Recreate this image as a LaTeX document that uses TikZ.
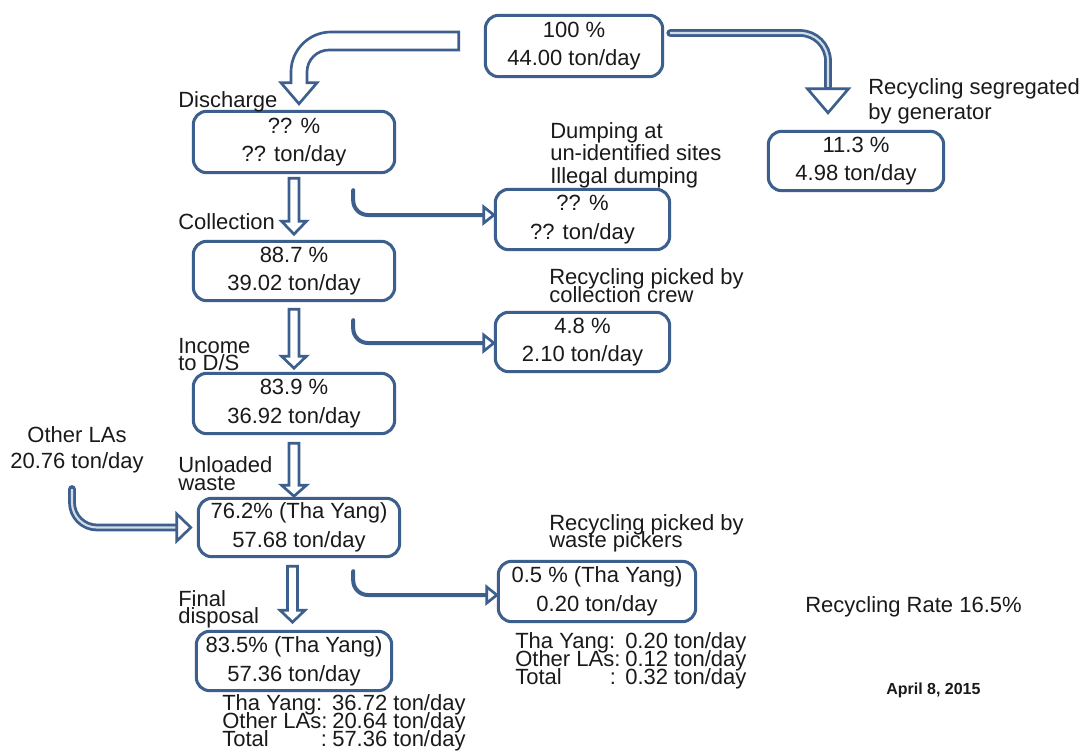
\documentclass[tikz,border=0pt]{standalone}
\usepackage{fontspec}
\setmainfont{Liberation Sans}
\usetikzlibrary{calc}
\definecolor{flowblue}{HTML}{3C5F8D}
\definecolor{ink}{HTML}{1A1A1A}
% lines stacked at a fixed baseline distance; the box baseline is the first line
\newcommand\stackl[2]{\vtop{\baselineskip=#1\lineskiplimit=-50pt\lineskip=0pt\halign{##\hfil\cr#2\crcr}}}
\newcommand\stackc[2]{\vtop{\baselineskip=#1\lineskiplimit=-50pt\lineskip=0pt\halign{\hfil##\hfil\cr#2\crcr}}}
\newcommand\keycol[1]{\makebox[82.5pt][l]{#1}}
% hollow down arrow: start coordinate, shaft length, head length
\newcommand\colarrow[3]{\draw[hollow] ($(#1)+(-5,0)$) -- ++(0,-#2) -- ++(-7.5,0) -- ++(12.5,-#3) -- ++(12.5,#3) -- ++(-7.5,0) -- ++(0,#2) -- cycle;}
\begin{document}
\begin{tikzpicture}[x=0.75pt,y=0.75pt,font=\fontsize{16.5}{19}\selectfont,text=ink,
  box/.style={draw=flowblue,line width=2.3pt,rounded corners=10pt,fill=white,align=center,inner sep=0pt,font=\fontsize{16.5}{21.5}\selectfont},
  lbl/.style={anchor=base west,inner sep=0pt},
  hollow/.style={draw=flowblue,line width=2pt,fill=white,line join=miter},
  elbow/.style={draw=flowblue,line width=3pt,rounded corners=11pt,line cap=round},
  pipe/.style={draw=flowblue!22,line width=1.6pt,preaction={draw=flowblue,line width=5.8pt,line cap=round}}]

\fill[white] (0,0) rectangle (1081,-753);
\useasboundingbox (0,0) rectangle (1081,-753);

% quantity boxes
\node[box,minimum width=133pt,minimum height=46pt] (src) at (574,-46) {100 \%\\44.00 ton/day};
\node[box,minimum width=151pt,minimum height=46pt] (dis) at (294,-142) {?? \%\\?? ton/day};
\node[box,minimum width=131.5pt,minimum height=44.5pt] (gen) at (856,-161) {11.3 \%\\4.98 ton/day};
\node[box,minimum width=130.75pt,minimum height=45.25pt] (dump) at (582.5,-219.5) {?? \%\\?? ton/day};
\node[box,minimum width=151pt,minimum height=44.5pt] (col) at (294,-271) {88.7 \%\\39.02 ton/day};
\node[box,minimum width=130.75pt,minimum height=44.5pt] (crew) at (582.5,-342) {4.8 \%\\2.10 ton/day};
\node[box,minimum width=151pt,minimum height=45.25pt] (inc) at (294,-403.5) {83.9 \%\\36.92 ton/day};
\node[box,minimum width=151pt,minimum height=43.75pt] (unl) at (299,-527.5) {76.2\% (Tha Yang)\\57.68 ton/day};
\node[box,minimum width=148pt,minimum height=45.25pt] (pick) at (597,-591.5) {0.5 \% (Tha Yang)\\0.20 ton/day};
\node[box,minimum width=146.5pt,minimum height=44.5pt] (fin) at (294,-661) {83.5\% (Tha Yang)\\57.36 ton/day};

% stage labels
\node[lbl] (lDis) at (178,-107) {Discharge};
\node[lbl] (lCol) at (178,-229) {Collection};
\node[lbl] (lInc) at (178,-353) {\stackl{13pt}{Income\cr to D/S}};
\node[lbl] (lUnl) at (178,-472) {\stackl{13.5pt}{Unloaded\cr waste}};
\node[lbl] (lFin) at (178,-606) {\stackl{13pt}{Final\cr disposal}};
\node[lbl] (lDump) at (550,-138) {\stackl{16.9pt}{Dumping at\cr un-identified sites\cr Illegal dumping}};
\node[lbl] (lGen) at (868,-94) {\stackl{18.75pt}{Recycling segregated\cr by generator}};
\node[lbl] (lCrew) at (549,-284) {\stackl{13.5pt}{Recycling picked by\cr collection crew}};
\node[lbl] (lPick) at (549,-530) {\stackl{13pt}{Recycling picked by\cr waste pickers}};
\node[anchor=base,inner sep=0pt] (lOther) at (77,-442) {\stackc{19.5pt}{Other LAs\cr 20.76 ton/day}};
\node[lbl] (lPickSum) at (515,-648) {\stackl{13.5pt}{\keycol{Tha Yang:}0.20 ton/day\cr
  \keycol{Other LAs:}0.12 ton/day\cr \keycol{Total\hfill:\hspace{7pt}}0.32 ton/day}};
\node[lbl] (lFinSum) at (222,-710) {\stackl{13.5pt}{\keycol{Tha Yang:}36.72 ton/day\cr
  \keycol{Other LAs:}20.64 ton/day\cr \keycol{Total\hfill:\hspace{4pt}}57.36 ton/day}};
\node[lbl] (rate) at (805,-612) {Recycling Rate 16.5\%};
\node[lbl,font=\fontsize{12}{14}\selectfont\bfseries] (date) at (886,-694) {April 8, 2015};

% discharge: wide hollow bent arrow
\coordinate (bS) at ($(src.west)+(-25,5)$);
\coordinate (bT) at ($(dis.north)+(5,6)$);
\draw[hollow] ($(bS)+(0,9)$) -- ($(bT|-bS)+(32,9)$) arc[start angle=90,end angle=180,radius=40]
  -- ($(bT)+(-8,21)$) -- ($(bT)+(-18,21)$) -- (bT) -- ($(bT)+(18,21)$) -- ($(bT)+(8,21)$)
  -- ($(bT|-bS)+(8,-31)$) arc[start angle=180,end angle=90,radius=22] -- ($(bS)+(0,-9)$) -- cycle;

% segregated by generator: narrow pipe arrow
\coordinate (rS) at ($(src.east)+(6,13)$);
\coordinate (rT) at ($(gen.north)+(-28,17)$);
\draw[pipe] (rS) -- ($(rT|-rS)+(-28,0)$) arc[start angle=90,end angle=0,radius=28] -- ($(rT)+(0,26)$);
\draw[hollow] ($(rT)+(-20.5,24)$) -- (rT) -- ($(rT)+(20.5,24)$) -- cycle;

% main column arrows
\coordinate (c1) at ($(dis.south)+(0,-4)$);
\coordinate (c2) at ($(col.south)+(0,-7)$);
\coordinate (c3) at ($(inc.south)+(0,-8)$);
\coordinate (c4) at ($(unl.south)+(-6.5,-8)$);
\colarrow{c1}{43}{13}
\colarrow{c2}{47}{12}
\colarrow{c3}{42}{11}
\colarrow{c4}{44}{12}

% side branches
\coordinate (e1s) at ($(dis.south east)+(-43,-16)$);
\coordinate (e1t) at ($(dump.west)+(0,4.5)$);
\coordinate (e2s) at ($(col.south east)+(-43,-18)$);
\coordinate (e2t) at ($(crew.west)+(0,-1)$);
\coordinate (e3s) at ($(unl.south east)+(-48,-13)$);
\coordinate (e3t) at ($(pick.west)+(0,-3.5)$);
\foreach \s/\t in {e1s/e1t,e2s/e2t,e3s/e3t}{
  \draw[elbow] (\s) |- ($(\t)+(-10,0)$);
  \draw[hollow] ($(\t)+(-10,8)$) -- (\t) -- ($(\t)+(-10,-8)$) -- cycle;
}

% waste from other LAs
\coordinate (lS) at ($(lOther.base)+(-5,-47)$);
\coordinate (lT) at ($(unl.west)+(-6,0)$);
\draw[pipe] (lS) -- ($(lS|-lT)+(0,25)$) arc[start angle=180,end angle=270,radius=25] -- ($(lT)+(-14,0)$);
\draw[hollow] ($(lT)+(-14,13.5)$) -- (lT) -- ($(lT)+(-14,-13.5)$) -- cycle;
\end{tikzpicture}
\end{document}
